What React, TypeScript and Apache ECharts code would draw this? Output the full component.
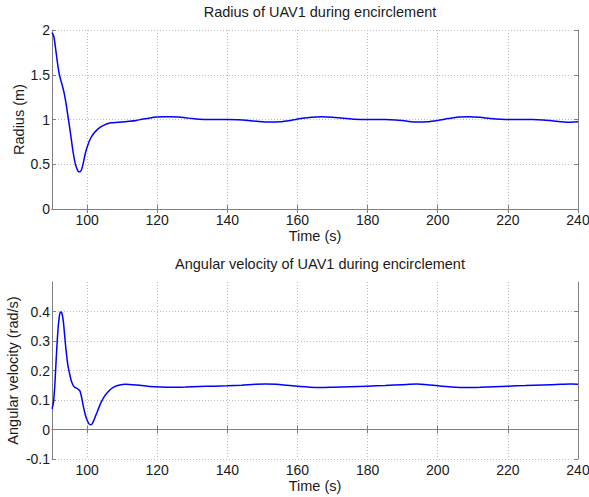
import React, { useEffect, useRef } from "react";
import * as echarts from "echarts";

const radiusTime = [90, 90.5, 91, 91.5, 92, 92.5, 93, 93.5, 94, 94.5, 95, 95.5, 96, 96.5, 97, 97.5, 98, 98.5, 99, 99.5, 100, 101, 102, 103, 104, 105, 106, 107, 108, 110, 112, 114, 116, 118, 120, 122, 124, 126, 128, 130, 132, 135, 140, 143, 146, 149, 152, 155, 158, 161, 164, 167, 170, 173, 176, 180, 185, 188, 191, 194, 197, 200, 203, 206, 209, 212, 215, 218, 222, 227, 230, 233, 236, 238, 240];
const radiusValues = [1.97, 1.93, 1.8, 1.65, 1.52, 1.44, 1.37, 1.29, 1.18, 1.05, 0.92, 0.78, 0.64, 0.53, 0.46, 0.42, 0.415, 0.45, 0.53, 0.62, 0.69, 0.79, 0.85, 0.89, 0.92, 0.94, 0.955, 0.963, 0.967, 0.972, 0.98, 0.99, 1.005, 1.018, 1.027, 1.032, 1.032, 1.028, 1.02, 1.01, 1.003, 1.0, 1.0, 0.998, 0.99, 0.978, 0.972, 0.975, 0.99, 1.01, 1.025, 1.03, 1.025, 1.013, 1.004, 1.0, 1.0, 0.995, 0.982, 0.972, 0.975, 0.99, 1.01, 1.027, 1.03, 1.024, 1.012, 1.004, 1.0, 1.0, 0.995, 0.983, 0.972, 0.97, 0.975];

const omegaTime = [90, 90.4, 90.8, 91.2, 91.6, 92, 92.4, 92.8, 93.2, 93.6, 94, 94.5, 95, 95.5, 96, 96.5, 97, 97.5, 98, 98.5, 99, 99.5, 100, 100.5, 101, 101.5, 102, 103, 104, 105, 106, 107, 108, 109, 111, 113, 115, 118, 121, 124, 128, 132, 136, 140, 144, 148, 151, 154, 157, 160, 163, 166, 170, 175, 180, 185, 190, 194, 197, 200, 204, 208, 212, 216, 220, 225, 230, 235, 238, 240];
const omegaValues = [0.07, 0.09, 0.15, 0.24, 0.32, 0.375, 0.398, 0.395, 0.37, 0.32, 0.27, 0.22, 0.19, 0.165, 0.15, 0.143, 0.14, 0.136, 0.13, 0.105, 0.075, 0.05, 0.032, 0.02, 0.016, 0.02, 0.033, 0.063, 0.092, 0.113, 0.128, 0.139, 0.146, 0.15, 0.153, 0.152, 0.15, 0.146, 0.144, 0.143, 0.144, 0.146, 0.147, 0.148, 0.15, 0.153, 0.154, 0.153, 0.15, 0.147, 0.144, 0.142, 0.143, 0.145, 0.147, 0.149, 0.152, 0.154, 0.152, 0.148, 0.144, 0.142, 0.143, 0.145, 0.147, 0.149, 0.151, 0.153, 0.154, 0.153];

const xTicks = [100, 120, 140, 160, 180, 200, 220, 240];
const radiusTicks = [0, 0.5, 1, 1.5, 2];
const omegaTicks = [-0.1, 0, 0.1, 0.2, 0.3, 0.4];
const titles = ["Radius of UAV1 during encirclement", "Angular velocity of UAV1 during encirclement"];
const yNames = ["Radius (m)", "Angular velocity (rad/s)"];
const xName = "Time (s)";

const FONT = "'Liberation Sans', Arial, sans-serif";
const TEXT = "#1a1a1a";
const AXIS = "#808080";

export default function App() {
  const ref = useRef<HTMLDivElement>(null);
  useEffect(() => {
    if (!ref.current) return;
    const chart = echarts.init(ref.current, undefined, { renderer: "svg" });
    const labelStyle = { color: TEXT, fontSize: 14, fontFamily: FONT };
    const nameStyle = { color: TEXT, fontSize: 14.5, fontFamily: FONT };
    const splitLine = { show: true, lineStyle: { color: "#bdbdbd", type: [1, 2] as any, width: 1 } };
    const axisLine = { show: true, lineStyle: { color: AXIS, width: 1 } };
    const tick = (values: number[]) => ({
      show: true,
      inside: true,
      length: 4,
      customValues: values,
      lineStyle: { color: AXIS },
    });

    const mainX = (gridIndex: number) => ({
      type: "value",
      gridIndex,
      min: 90,
      max: 240,
      name: xName,
      nameLocation: "middle",
      nameGap: 19,
      nameMoveOverlap: false,
      nameTextStyle: nameStyle,
      axisLine,
      axisTick: tick(xTicks),
      axisLabel: { ...labelStyle, margin: 4, customValues: xTicks, formatter: (v: number) => String(v) },
      splitLine,
    });
    const topX = (gridIndex: number) => ({
      type: "value",
      gridIndex,
      min: 90,
      max: 240,
      position: "top",
      axisLine,
      axisTick: tick(xTicks),
      axisLabel: { show: false },
      splitLine: { show: false },
    });
    const rightY = (gridIndex: number, min: number, max: number, values: number[]) => ({
      type: "value",
      gridIndex,
      min,
      max,
      position: "right",
      axisLine,
      axisTick: tick(values),
      axisLabel: { show: false },
      splitLine: { show: false },
    });

    chart.setOption({
      animation: false,
      backgroundColor: "#ffffff",
      title: [
        {
          text: titles[0],
          left: 315,
          top: -1,
          textAlign: "center",
          textStyle: { fontSize: 14.5, fontWeight: "normal", color: TEXT, fontFamily: FONT },
        },
        {
          text: titles[1],
          left: 315,
          top: 251,
          textAlign: "center",
          textStyle: { fontSize: 14.5, fontWeight: "normal", color: TEXT, fontFamily: FONT },
        },
      ],
      grid: [
        { left: 52, right: 11, top: 30, height: 179, containLabel: false, outerBoundsMode: "none" },
        { left: 52, right: 11, top: 282, height: 177, containLabel: false, outerBoundsMode: "none" },
      ],
      xAxis: [mainX(0), mainX(1), topX(0), topX(1)],
      yAxis: [
        {
          type: "value",
          gridIndex: 0,
          min: 0,
          max: 2,
          name: yNames[0],
          nameLocation: "middle",
          nameGap: 26,
          nameMoveOverlap: false,
          nameTextStyle: nameStyle,
          axisLine,
          axisTick: tick(radiusTicks),
          axisLabel: { ...labelStyle, margin: 2, customValues: radiusTicks, formatter: (v: number) => String(v) },
          splitLine,
        },
        {
          type: "value",
          gridIndex: 1,
          min: -0.1,
          max: 0.5,
          name: yNames[1],
          nameLocation: "middle",
          nameGap: 32,
          nameMoveOverlap: false,
          nameTextStyle: nameStyle,
          axisLine,
          axisTick: tick(omegaTicks),
          axisLabel: {
            ...labelStyle,
            margin: 2,
            customValues: omegaTicks,
            formatter: (v: number) => {
              const r = Math.round(v * 10) / 10;
              return r === 0 ? "0" : String(r);
            },
          },
          splitLine,
        },
        rightY(0, 0, 2, radiusTicks),
        rightY(1, -0.1, 0.5, omegaTicks),
      ],
      series: [
        {
          type: "line",
          xAxisIndex: 0,
          yAxisIndex: 0,
          data: radiusTime.map((t, i) => [t, radiusValues[i]]),
          showSymbol: false,
          smooth: 0.3,
          lineStyle: { color: "#0000ff", width: 1.5 },
        },
        {
          type: "line",
          xAxisIndex: 1,
          yAxisIndex: 1,
          data: omegaTime.map((t, i) => [t, omegaValues[i]]),
          showSymbol: false,
          smooth: 0.3,
          lineStyle: { color: "#0000ff", width: 1.5 },
        },
      ],
    });
    return () => chart.dispose();
  }, []);
  return (
    <div
      ref={ref}
      style={{ position: "absolute", left: 0, top: 0, width: 589, height: 497, background: "#fff" }}
    />
  );
}
